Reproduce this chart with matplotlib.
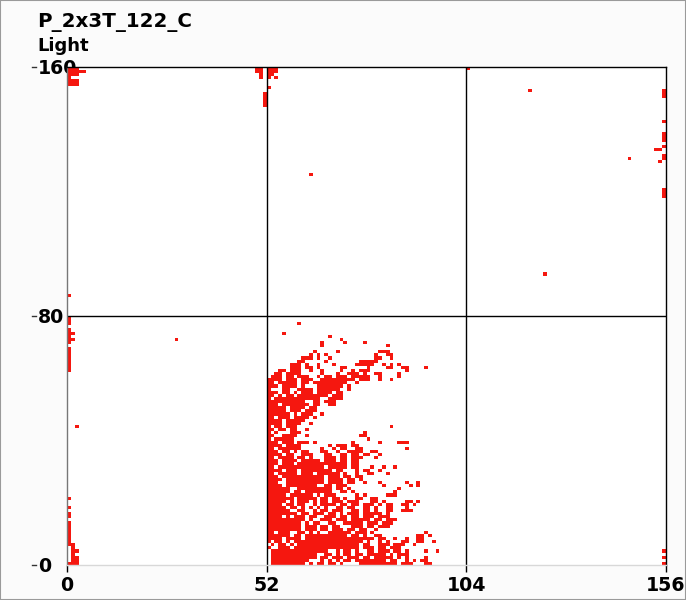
import matplotlib
matplotlib.use('AGG')
import matplotlib.pyplot as plt
import numpy as np
from matplotlib.colors import ListedColormap
from matplotlib.patches import Rectangle
from matplotlib.transforms import blended_transform_factory

titulo = 'P_2x3T_122_C'
subtitulo = 'Light'
x_ticks = [0, 52, 104, 156]
y_ticks = [0, 80, 160]
n_cols = 156
n_rows = 160

# dense block: first string is row 78, last is row 0, first char is column 52
bloque = [
    "",
    "        #",
    "",
    "",
    "    #",
    "                #",
    "                   #",
    "              #     #    #",
    "              #                #",
    "",
    "            #     #          ###",
    "           # # #            #  ##",
    "         ### #  #           ##  #",
    "        ##     #        #####",
    "      ### #  #   #     #####  # # #",
    "      ### ## #     ##     #    ##  ##    #",
    "   ## ###  #  #    #  # ###         #",
    "  ## ####     #   #  ### #  ##    #",
    " ### ## ###  # ## ### #####  #    #",
    "#### ### ###  ######### ###  #  #",
    "## ##### ## #########  #",
    "### #### #   ####### #",
    "#   ##  #### ######  #",
    "### ## # ### #### ##",
    "## # ## ######## ###",
    "# ############  ####",
    "##########  ## ###",
    "### ####### ##  ##",
    "##### #### ##",
    "##### ### ###",
    "###### # ###  #",
    "## ### #### #",
    "#### #####",
    "#### ####  #",
    "# ## ###                        #",
    "## ## ##  #",
    "# #   ###                #",
    "##  ####  #             ##",
    "# #####                   #",
    "### ### ### #         #      #    ###",
    "#### ####       # ### ##",
    "## ######     #  # ##  ##           #",
    "### ## # ##   ##  #  ####  ##",
    "#### ##  ###   ##  ## ## ##  #",
    "## #### ## #   ### ## ###   #",
    "### #### ##### ### ## ##",
    "### ### ############# ##",
    "## ############ ##### ##   #  #  #",
    "#### ### ######## ##   # ##  #",
    "## ##### ### ###### #  #  ##   #",
    "### ########### ### ## ##",
    "#### ########## #### ## #",
    "###  ########## #### ##  #   #      #  #",
    "#### ########  ## ###         #      # #",
    "######  ######### ## #            #",
    "###### ## #######  ## #          #",
    "##### ###### # ###     # #     ###",
    "####### ##### ## ## #  ##  ##",
    "##### # ### # ## ### ###   ## #     ## #",
    "#### ## ##  # #### ## ## ### # ##  ## #",
    "##### ## # # # #  ## ##  ## #  ##   #",
    "######  ##  # ## ###  ## ## #  ##  ###",
    "######## ## ### ## # ### ##### #",
    "#### # ### ##  ### ## ## ### ###",
    "########## #  ### ### ##### ## ###",
    "######### # ##  ##  ##### ### ###",
    "######### ### ## ##   ### ## ###",
    "######### ### ## ### ## ##  #",
    "## ###  ## # #  ###### ### #             #",
    "###### ## ########### ## #  ##         ## #",
    "#### #### ################## ##  #  #  ##",
    "# ## # ################## #  # #   ##  ##  #",
    " # ## # ################ ##  ### ###  #",
    "#  ### ################# ### ## ###",
    " ###############  # ## #  ## ### ## #    #  #",
    " ############  ## # ## ## ##### # ###",
    " ############ ## ### ### ## ##### # #    #",
    " ##########   # # # ## ######## ##  # # ##",
    " ######### # ## ## #    ########## ###   ##",
]

# isolated cells, one pair per cell
suelto_col = [0, 1, 2, 0, 1, 2, 3, 4, 0, 1, 2, 0, 0, 1, 2, 0, 1, 2,
              49, 50, 49, 50, 50, 50, 52, 53, 54, 52, 53, 54, 52, 53, 52, 54, 52,
              51, 51, 51, 51, 51, 104, 120, 63, 146, 124, 28, 2,
              155, 155, 155, 155, 155, 155, 155, 153, 154, 155, 155, 154, 155, 155, 155,
              155, 155, 155,
              0, 0, 0, 0, 0, 0, 0, 0, 1, 0, 1, 0, 0, 0, 0, 0, 0, 0, 0, 0, 0,
              0, 0, 0, 0, 0, 0, 0, 0, 0, 0, 0, 0,
              1, 1, 1, 1, 1, 1, 1, 2, 2, 2, 2]
suelto_row = [159, 159, 159, 158, 158, 158, 158, 158, 157, 157, 157, 156, 155, 155, 155, 154, 154, 154,
              159, 159, 158, 158, 157, 156, 159, 159, 159, 158, 158, 158, 157, 157, 156, 156, 153,
              151, 150, 149, 148, 147, 159, 152, 125, 130, 93, 72, 44,
              152, 151, 150, 142, 138, 137, 136, 133, 133, 134, 131, 129, 130, 120, 119,
              118, 4, 2,
              86, 79, 78, 77, 75, 74, 73, 72, 74, 71, 72, 69, 68, 67, 66, 65, 64, 63, 62, 21, 18,
              16, 15, 13, 12, 11, 10, 9, 8, 7, 6, 6, 0,
              6, 5, 4, 3, 2, 1, 0, 4, 2, 1, 0]

celdas = np.zeros((n_rows, n_cols), dtype=int)
for i, fila in enumerate(bloque):
    for j, c in enumerate(fila):
        if c == '#':
            celdas[78 - i, 52 + j] = 1
celdas[suelto_row, suelto_col] = 1
celdas[0, 155] = 1

fig = plt.figure(figsize=(6.86, 6.00), dpi=100, facecolor='#fbfbfb')
ax = fig.add_axes([67 / 686, 1 - 565 / 600, 599 / 686, 498 / 600])
ax.pcolormesh(np.arange(n_cols + 1), np.arange(n_rows + 1), celdas,
              cmap=ListedColormap(['white', '#f5170f']), vmin=0, vmax=1)
ax.set_xlim(0, n_cols)
ax.set_ylim(0, n_rows)

ax.set_xticks(x_ticks)
ax.set_xticklabels([str(v) for v in x_ticks], fontsize=13.7, fontweight='bold')
ax.set_yticks(y_ticks)
ax.set_yticklabels([])
ax.tick_params(axis='x', length=5, width=1, pad=3, color='black')
ax.tick_params(axis='y', length=31, width=0)
for v in x_ticks[1:-1]:
    ax.axvline(v, color='black', lw=1)
ax.axhline(80, color='black', lw=1)

ax.spines['top'].set_color('black')
ax.spines['right'].set_color('black')
ax.spines['left'].set_color('#777777')
ax.spines['bottom'].set_color('#d8d8d8')
for s in ax.spines.values():
    s.set_linewidth(1)

# labels sit under the axes, so the top one gets cut by the plot
mezcla = blended_transform_factory(fig.transFigure, ax.transData)
for v in y_ticks:
    fig.text(38 / 686, v - 0.4, str(v), transform=mezcla, fontsize=13.7, fontweight='bold',
             ha='left', va='center', zorder=-1)
    fig.add_artist(plt.Line2D([32 / 686, 36 / 686], [v, v], transform=mezcla, color='#333333', lw=1, zorder=-1))

fig.text(37 / 686, 1 - 22.5 / 600, titulo, fontsize=14.3, fontweight='bold', ha='left', va='center', zorder=-1)
fig.text(37 / 686, 1 - 46 / 600, subtitulo, fontsize=13, fontweight='bold', ha='left', va='center', zorder=-1)

# thin grey edge of the picture
fig.add_artist(Rectangle((0, 0), 1, 1, transform=fig.transFigure, fill=False, ec='#9a9a9a', lw=1.5))

plt.savefig('out.png', facecolor=fig.get_facecolor())
plt.close()
